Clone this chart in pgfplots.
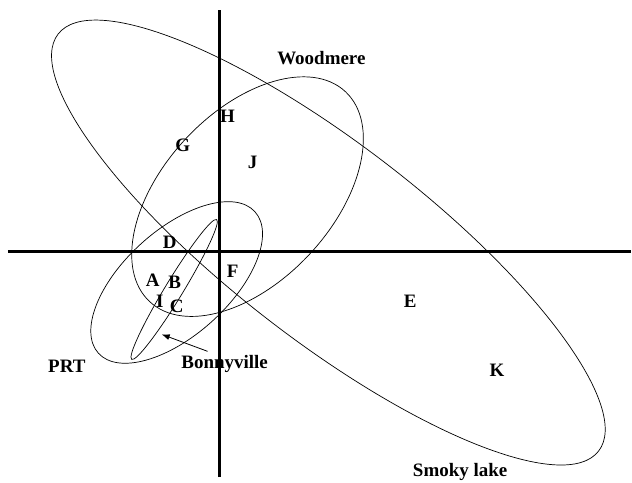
\documentclass[border=0pt]{standalone}
\usepackage{fontspec}
\setmainfont{Liberation Serif}
\usepackage{pgfplots}
\usepackage{pgfplotstable}
\pgfplotsset{compat=1.18}
\usetikzlibrary{arrows.meta}

% sample points (letters) and group names, origin at the crossing of the axes
\pgfplotstableread[col sep=comma]{
x,y,label
8,135,H
-37,106,G
33,89,J
-50,9,D
13,-20,F
-67,-29,A
-45,-31,B
-60,-50,I
-43,-55,C
191,-50,E
278,-119,K
}\samples

\pgfplotstableread[col sep=comma]{
x,y,label
102,194,Woodmere
-153,-115,PRT
5,-113,Bonnyville
241,-221,Smoky lake
}\groups

\begin{document}
\begin{tikzpicture}
\begin{axis}[
    x=1pt, y=1pt,
    xmin=-212, xmax=412, ymin=-226, ymax=242,
    enlargelimits=false,
    axis lines=middle,
    axis line style={-, line width=2.4pt},
    xtick=\empty, ytick=\empty,
    clip=false,
    nodes near coords align={center},
    every node near coord/.append style={font=\fontsize{19}{22}\selectfont\bfseries, text=black, inner sep=0pt},
  ]
  % keep the full frame of the picture
  \path (axis cs:-220,252) rectangle (axis cs:412,-231);

  % group ellipses: centre, semi-axes, rotation (overlay: their bezier boxes are too large)
  \begin{scope}[overlay]
  \draw[line width=0.7pt, rotate around={-37.65:(axis cs:109,9)}]
    (axis cs:109,9) ellipse [x radius=342pt, y radius=98pt];      % Smoky lake
  \draw[line width=0.7pt, rotate around={47:(axis cs:28,55)}]
    (axis cs:28,55) ellipse [x radius=143.8pt, y radius=84.8pt];  % Woodmere
  \draw[line width=0.7pt, rotate around={42.1:(axis cs:-43,-31)}]
    (axis cs:-43,-31) ellipse [x radius=105.7pt, y radius=52.7pt]; % PRT
  \draw[line width=0.7pt, rotate around={58.7:(axis cs:-45.5,-38)}]
    (axis cs:-45.5,-38) ellipse [x radius=82pt, y radius=9pt];     % Bonnyville
  \end{scope}

  \draw[-{Latex[length=8pt,width=6pt]}, line width=0.8pt]
    (axis cs:-12,-100) -- (axis cs:-58,-83);

  \addplot[draw=none, mark=none, nodes near coords, point meta=explicit symbolic]
    table[x=x, y=y, meta=label] {\samples};
  \addplot[draw=none, mark=none, nodes near coords, point meta=explicit symbolic]
    table[x=x, y=y, meta=label] {\groups};
\end{axis}
\end{tikzpicture}
\end{document}
